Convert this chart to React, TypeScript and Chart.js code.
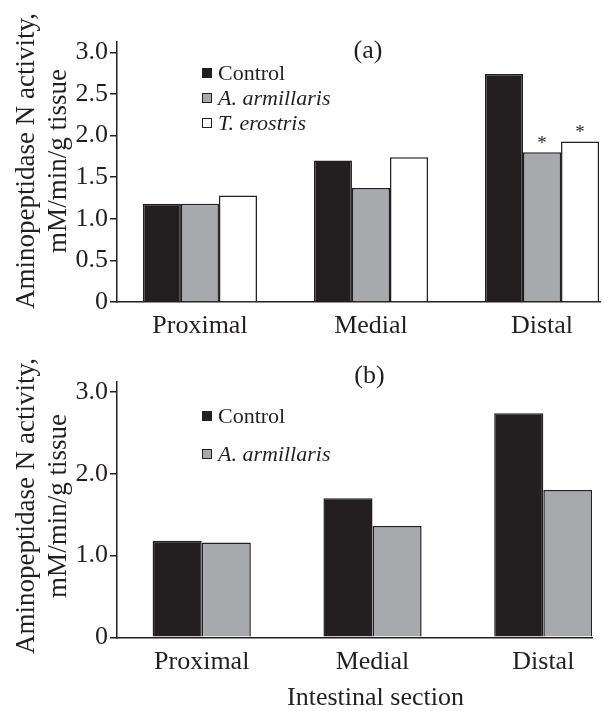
import { useEffect, useRef } from 'react';
import { Chart, registerables } from 'chart.js';

Chart.register(...registerables);

// ---------- data ----------
const categories = ['Proximal', 'Medial', 'Distal'];
const seriesLabels = ['Control', 'A. armillaris', 'T. erostris'];

const controlA = [1.18, 1.70, 2.74];
const armillarisA = [1.18, 1.37, 1.80];
const erostrisA = [1.28, 1.74, 1.93];
const starsA = [
  [false, false, false],
  [false, false, true],
  [false, false, true],
];

const controlB = [1.18, 1.70, 2.74];
const armillarisB = [1.16, 1.36, 1.80];

const yTicksA = [0, 0.5, 1.0, 1.5, 2.0, 2.5, 3.0];
const yTicksB = [0, 1.0, 2.0, 3.0];

const yTitle = ['Aminopeptidase N activity,', 'mM/min/g tissue'];
const xTitle = 'Intestinal section';

// ---------- styles ----------
const INK = '#231f20';
const FILLS = ['#231f20', '#a7a9ac', '#ffffff'];
const FAMILY = '"Liberation Serif", "Times New Roman", serif';

type PanelCfg = {
  tag: string;
  tagY: number;
  legendY: number;
  legendStep: number;
  stars?: boolean[][];
  showXTitle: boolean;
  xTitleY: number;
};

const overlayPlugin = (cfg: PanelCfg) => ({
  id: 'overlay',
  afterDraw(chart: any) {
    const ctx = chart.ctx as CanvasRenderingContext2D;
    const xs = chart.scales.x;
    ctx.save();
    ctx.fillStyle = INK;

    // panel tag
    ctx.font = `26px ${FAMILY}`;
    ctx.textAlign = 'center';
    ctx.textBaseline = 'middle';
    ctx.fillText(cfg.tag, xs.getPixelForValue(1) - 3, cfg.tagY);

    // y title (two rotated lines)
    ctx.save();
    ctx.translate(26.5, 161);
    ctx.rotate(-Math.PI / 2);
    ctx.font = `27px ${FAMILY}`;
    ctx.textAlign = 'center';
    ctx.textBaseline = 'middle';
    yTitle.forEach((line, i) => ctx.fillText(line, 0, i * 32));
    ctx.restore();

    // legend
    const lx = chart.chartArea.left + 85;
    chart.data.datasets.forEach((ds: any, i: number) => {
      const cy = cfg.legendY + i * cfg.legendStep;
      ctx.fillStyle = ds.backgroundColor;
      ctx.fillRect(lx, cy - 5, 10, 10);
      ctx.strokeStyle = INK;
      ctx.lineWidth = 1;
      ctx.strokeRect(lx + 0.5, cy - 4.5, 9, 9);
      ctx.fillStyle = INK;
      ctx.font = `${i > 0 ? 'italic ' : ''}22px ${FAMILY}`;
      ctx.textAlign = 'left';
      ctx.textBaseline = 'middle';
      ctx.fillText(ds.label, lx + 16, cy + 1);
    });

    // significance asterisks
    if (cfg.stars) {
      ctx.font = `19px ${FAMILY}`;
      ctx.textAlign = 'center';
      ctx.textBaseline = 'alphabetic';
      chart.data.datasets.forEach((_ds: any, i: number) => {
        const meta = chart.getDatasetMeta(i);
        meta.data.forEach((bar: any, j: number) => {
          if (cfg.stars && cfg.stars[i] && cfg.stars[i][j]) {
            ctx.fillText('*', bar.x, bar.y - 3);
          }
        });
      });
    }

    // x title
    if (cfg.showXTitle) {
      ctx.font = `26px ${FAMILY}`;
      ctx.textAlign = 'center';
      ctx.textBaseline = 'middle';
      ctx.fillText(xTitle, xs.getPixelForValue(1) + 3, cfg.xTitleY);
    }
    ctx.restore();
  },
});

function buildChart(
  canvas: HTMLCanvasElement,
  series: number[][],
  yTicks: number[],
  opts: {
    xMin: number;
    xMax: number;
    groupPct: number;
    padTop: number;
    padRight: number;
    xHeight: number;
    panel: PanelCfg;
  }
) {
  return new Chart(canvas, {
    type: 'bar',
    data: {
      datasets: series.map((vals, i) => ({
        label: seriesLabels[i],
        data: vals.map((v, j) => ({ x: j, y: v })),
        backgroundColor: FILLS[i],
        borderColor: INK,
        borderWidth: 1.5,
        categoryPercentage: opts.groupPct,
        barPercentage: 1,
      })),
    },
    options: {
      animation: false,
      responsive: false,
      devicePixelRatio: 1,
      layout: { padding: { top: opts.padTop, right: opts.padRight, left: 0, bottom: 0 } },
      plugins: { legend: { display: false }, tooltip: { enabled: false } },
      scales: {
        x: {
          type: 'linear',
          offset: false,
          min: opts.xMin,
          max: opts.xMax,
          grid: { display: false, drawTicks: false, offset: false },
          border: { display: true, color: INK, width: 1.5 },
          afterBuildTicks: (s: any) => {
            s.ticks = categories.map((_, i) => ({ value: i }));
          },
          afterFit: (s: any) => {
            s.height = opts.xHeight;
          },
          ticks: {
            callback: (v: any) => categories[v as number] ?? '',
            font: { family: FAMILY, size: 26 },
            color: INK,
            padding: 9,
            autoSkip: false,
            maxRotation: 0,
          },
        },
        y: {
          type: 'linear',
          min: 0,
          max: 3.125,
          afterBuildTicks: (s: any) => {
            s.ticks = yTicks.map((v) => ({ value: v }));
          },
          afterFit: (s: any) => {
            s.width = 117;
          },
          grid: {
            display: true,
            drawOnChartArea: false,
            drawTicks: true,
            tickLength: 7,
            color: INK,
            lineWidth: 1.5,
          },
          border: { display: true, color: INK, width: 1.5 },
          ticks: {
            callback: (v: any) => (v === 0 ? '0' : Number(v).toFixed(1)),
            font: { family: FAMILY, size: 26 },
            color: INK,
            padding: 2,
          },
        },
      },
    },
    plugins: [overlayPlugin(opts.panel)],
  } as any);
}

function Panel(props: {
  height: number;
  series: number[][];
  yTicks: number[];
  opts: any;
}) {
  const ref = useRef<HTMLCanvasElement>(null);
  useEffect(() => {
    if (!ref.current) return;
    const chart = buildChart(ref.current, props.series, props.yTicks, props.opts);
    return () => chart.destroy();
  }, []);
  return (
    <canvas
      ref={ref}
      width={603}
      height={props.height}
      style={{ display: 'block', width: 603, height: props.height }}
    />
  );
}

export default function App() {
  useEffect(() => {
    document.body.style.margin = '0';
    document.body.style.background = '#ffffff';
  }, []);
  return (
    <div style={{ width: 603, height: 711, background: '#fff', overflow: 'hidden' }}>
      <Panel
        height={345}
        series={[controlA, armillarisA, erostrisA]}
        yTicks={yTicksA}
        opts={{
          xMin: -0.485,
          xMax: 2.339,
          groupPct: 0.667,
          padTop: 42,
          padRight: 3,
          xHeight: 43,
          panel: {
            tag: '(a)',
            tagY: 51.5,
            legendY: 73,
            legendStep: 25,
            stars: starsA,
            showXTitle: false,
            xTitleY: 0,
          },
        }}
      />
      <Panel
        height={366}
        series={[controlB, armillarisB]}
        yTicks={yTicksB}
        opts={{
          xMin: -0.496,
          xMax: 2.285,
          groupPct: 0.575,
          padTop: 36.7,
          padRight: 11,
          xHeight: 73.7,
          panel: {
            tag: '(b)',
            tagY: 31,
            legendY: 71,
            legendStep: 38,
            showXTitle: true,
            xTitleY: 353,
          },
        }}
      />
    </div>
  );
}
